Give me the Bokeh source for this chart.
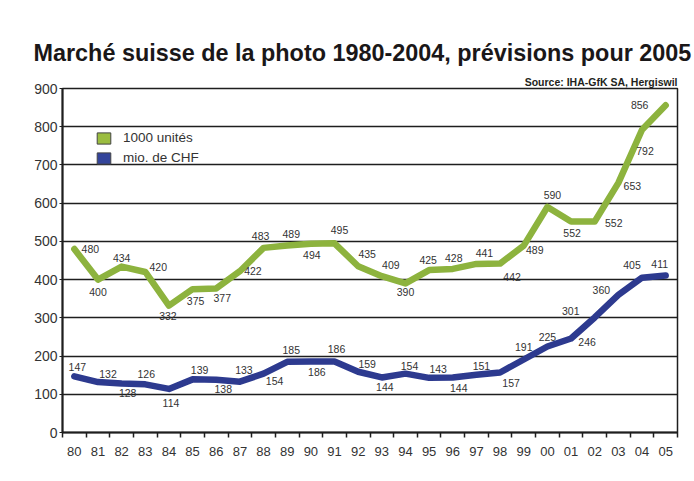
from bokeh.plotting import figure
from bokeh.models import (ColumnDataSource, FixedTicker, Range1d, Legend, LegendItem, Title)
from bokeh.core.properties import value
from bokeh.embed import file_html
from bokeh.resources import INLINE

# ---------------- data ----------------
years = ["80", "81", "82", "83", "84", "85", "86", "87", "88", "89", "90", "91", "92",
         "93", "94", "95", "96", "97", "98", "99", "00", "01", "02", "03", "04", "05"]
units = [480, 400, 434, 420, 332, 375, 377, 422, 483, 489, 494, 495, 435,
         409, 390, 425, 428, 441, 442, 489, 590, 552, 552, 653, 792, 856]
chf = [147, 132, 128, 126, 114, 139, 138, 133, 154, 185, 186, 186, 159,
       144, 154, 143, 144, 151, 157, 191, 225, 246, 301, 360, 405, 411]
y_ticks = [0, 100, 200, 300, 400, 500, 600, 700, 800, 900]

title_text = "Marché suisse de la photo 1980-2004, prévisions pour 2005"
source_text = "Source: IHA-GfK SA, Hergiswil"
legend_units = "1000 unités"
legend_chf = "mio. de CHF"

# ---------------- label placement (style, pixels) ----------------
units_dx = [16, 0, 0, 13, -1, 3, 6, 13, -3, 4, 1, 5, 9, 9, 0, -1, 1, 8, 12, 11, 5, 1, 19, 14, 3, -26]
units_dy = [0, 12, -9, -5, 10, 12, 10, 0, -12, -12, 11, -13, -12, -11, 9, -10, -11, -11, 13, 4, -12, 11, 1, 3, 21, 0]
chf_dx = [3, 10, 6, 1, 2, 7, 7, 4, 11, 4, 6, 2, 9, 3, 4, 9, 6, 5, 11, 0, 0, 16, -24, -17, -10, -6]
chf_dy = [-9, -8, 9, -10, 14, -9, 9, -12, 7, -12, 11, -12, -8, 10, -8, -9, 11, -9, 11, -12, -10, 4, -6, -5, -13, -11]

GREEN = "#8db33e"
BLUE = "#2d3a8f"
GRID = "#1e1e1e"
TXT = "#333333"
FONT = "Liberation Sans"

xs = [i + 0.5 for i in range(len(years))]
src = ColumnDataSource(dict(
    x=xs, units=units, chf=chf,
    units_txt=[str(v) for v in units], chf_txt=[str(v) for v in chf],
    udx=units_dx, udy=units_dy, cdx=chf_dx, cdy=chf_dy,
))

p = figure(width=692, height=479, output_backend="svg", toolbar_location=None,
           x_range=Range1d(0, len(years)), y_range=Range1d(0, 900),
           min_border_left=62, min_border_right=15, min_border_top=88, min_border_bottom=47)
p.background_fill_color = "white"
p.border_fill_color = "white"
p.outline_line_color = GRID
p.outline_line_width = 1.5

# axes
p.yaxis.ticker = FixedTicker(ticks=y_ticks)
p.yaxis.major_label_text_font = FONT
p.yaxis.major_label_text_font_size = "14px"
p.yaxis.major_label_text_color = TXT
p.yaxis.major_tick_out = 3
p.yaxis.major_tick_in = 0
p.yaxis.major_tick_line_color = GRID
p.yaxis.minor_tick_line_color = None
p.yaxis.axis_line_color = GRID
p.yaxis.axis_line_width = 2
p.yaxis.major_label_standoff = 2

p.xaxis.ticker = FixedTicker(ticks=xs, minor_ticks=list(range(len(years) + 1)))
p.xaxis.major_label_overrides = {x: y for x, y in zip(xs, years)}
p.xaxis.major_label_text_font = FONT
p.xaxis.major_label_text_font_size = "13px"
p.xaxis.major_label_text_color = TXT
p.xaxis.major_tick_line_color = None
p.xaxis.major_tick_out = 0
p.xaxis.major_tick_in = 0
p.xaxis.minor_tick_line_color = GRID
p.xaxis.minor_tick_line_width = 1.5
p.xaxis.minor_tick_out = 5
p.xaxis.minor_tick_in = 0
p.xaxis.axis_line_color = GRID
p.xaxis.axis_line_width = 2
p.xaxis.major_label_standoff = 9

p.xgrid.grid_line_color = None
p.ygrid.ticker = FixedTicker(ticks=y_ticks)
p.ygrid.grid_line_color = GRID
p.ygrid.grid_line_width = 1.5

# lines
p.line("x", "units", source=src, line_color=GREEN, line_width=6.5, line_join="round", line_cap="round")
p.line("x", "chf", source=src, line_color=BLUE, line_width=6.5, line_join="round", line_cap="round")

# value labels
p.text("x", "units", text="units_txt", source=src, x_offset="udx", y_offset="udy",
       text_align="center", text_baseline="middle", text_font=value(FONT),
       text_font_size="10.5px", text_color=TXT)
p.text("x", "chf", text="chf_txt", source=src, x_offset="cdx", y_offset="cdy",
       text_align="center", text_baseline="middle", text_font=value(FONT),
       text_font_size="10.5px", text_color=TXT)

# legend swatches: hidden bar renderers, only their legend glyph is shown
r_u = p.vbar(x="x", top="units", width=0.5, source=src, fill_color="#9bbd40",
             line_color="#444444", line_width=1, visible=False)
r_c = p.vbar(x="x", top="chf", width=0.5, source=src, fill_color="#33449a",
             line_color="#444444", line_width=1, visible=False)
legend = Legend(items=[LegendItem(label=legend_units, renderers=[r_u]),
                       LegendItem(label=legend_chf, renderers=[r_c])],
                location=(33, 267), orientation="vertical",
                glyph_width=17, glyph_height=14, label_height=14, spacing=5,
                label_standoff=11, padding=0, margin=0,
                border_line_color=None, background_fill_alpha=0,
                inactive_fill_alpha=0,
                label_text_font=FONT, label_text_font_size="13.5px", label_text_color=TXT)
p.add_layout(legend, "center")

# title and source
p.add_layout(Title(text=source_text, align="right", text_font=FONT, text_font_size="10.5px",
                   text_font_style="bold", text_color="#231f20", standoff=2), "above")
p.add_layout(Title(text=title_text, align="left", offset=-29, text_font=FONT,
                   text_font_size="23.4px", text_font_style="bold", text_color="#1a1718",
                   standoff=13), "above")

open("out.html", "w").write(file_html(p, INLINE))
